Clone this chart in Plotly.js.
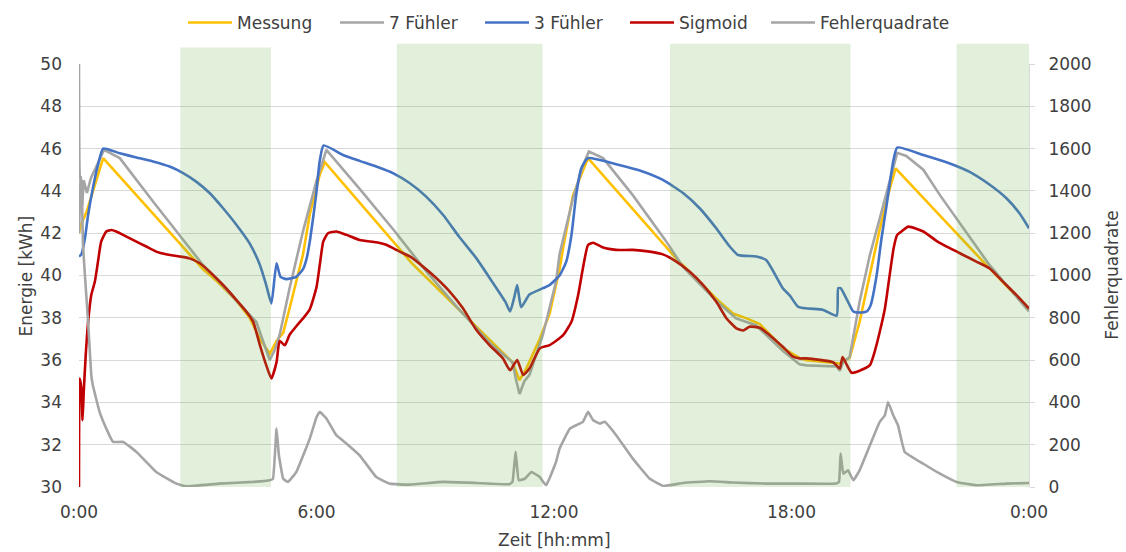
<!DOCTYPE html>
<html>
<head>
<meta charset="utf-8">
<script src="https://cdn.plot.ly/plotly-3.0.1.min.js"></script>
<style>
  html, body { margin: 0; padding: 0; background: #ffffff; }
  #chart { width: 1126px; height: 552px; }
</style>
</head>
<body>
<div id="chart"></div>
<script>
// Zeitachse in Stunden, Beschriftung hh:mm
const zeitTicks = [0, 6, 12, 18, 24];
const zeitTickText = ['0:00', '6:00', '12:00', '18:00', '0:00'];

// Zeiträume mit grüner Hinterlegung [h]
const tarifBeginn = [2.56, 8.03, 14.93, 22.17];
const tarifEnde = [4.85, 11.71, 19.49, 24.0];

// Messung [kWh]
const zeitMessung = [0, 0.05, 0.19, 0.4, 0.52, 0.61, 3.13, 3.5, 3.98, 4.31, 4.57, 4.82, 4.99, 5.16, 5.32, 5.49, 5.66, 5.83, 6.08, 6.21,
  8.4, 10.95, 11.13, 11.3, 11.64, 11.89, 12.14, 12.23, 12.48, 12.86,
  15.09, 15.68, 16.1, 16.52, 16.9, 17.2, 17.5, 17.8, 18.22, 18.38, 19.22, 19.47, 19.72, 19.98, 20.23, 20.48, 20.63,
  22.92, 24.0];
const messung = [42.0, 42.4, 43.0, 44.3, 45.0, 45.55, 40.3, 39.7, 38.8, 38.0, 37.0, 36.3, 36.9, 37.3, 38.45, 39.7, 41.0, 42.9, 44.76, 45.36,
  40.6, 35.9, 35.05, 35.6, 37.0, 38.2, 40.3, 41.3, 43.8, 45.55,
  40.8, 39.7, 38.9, 38.2, 37.95, 37.7, 37.1, 36.55, 36.08, 36.0, 35.84, 36.1, 37.8, 40.0, 42.2, 44.1, 45.07,
  40.5, 38.4];

// Modell mit 7 Fühlern [kWh]
const zeit7Fuehler = [0, 0.04, 0.08, 0.12, 0.2, 0.3, 0.45, 0.63, 1.03, 1.87, 3.13, 3.5, 3.98, 4.48, 4.65, 4.82, 4.95, 5.07, 5.32, 5.66, 5.99, 6.25,
  7.09, 7.93, 8.77, 9.6, 10.44, 10.95, 11.05, 11.13, 11.25, 11.38, 11.72, 12.05, 12.14, 12.48, 12.73, 12.88,
  13.24, 13.99, 14.84, 15.26, 16.1, 16.6, 17.1, 17.8, 18.2, 18.38, 19.14, 19.22, 19.3, 19.47, 19.72, 19.98, 20.23, 20.48, 20.67,
  20.9, 21.33, 21.75, 22.17, 22.59, 23.0, 23.43, 24.0];
const fuehler7 = [42.0, 44.7, 43.3, 44.5, 43.9, 44.6, 45.2, 45.94, 45.55, 43.5, 40.5, 39.8, 38.8, 37.8, 36.9, 36.0, 36.5, 37.2, 39.4, 42.1, 44.4, 45.94,
  44.1, 42.2, 40.2, 38.4, 36.7, 35.9, 35.0, 34.4, 35.0, 35.3, 37.2, 39.7, 41.0, 43.65, 45.2, 45.86,
  45.55, 43.8, 41.6, 40.4, 38.8, 37.97, 37.65, 36.4, 35.8, 35.75, 35.7, 35.5, 35.9, 36.15, 38.76, 40.97, 42.7, 44.4, 45.8,
  45.65, 45.0, 43.8, 42.7, 41.6, 40.5, 39.55, 38.3];

// Modell mit 3 Fühlern [kWh]
const zeit3Fuehler = [0, 0.06, 0.15, 0.23, 0.35, 0.48, 0.61, 1.03, 1.45, 1.87, 2.29, 2.63, 2.96, 3.3, 3.64, 3.98, 4.31, 4.57, 4.73, 4.86,
  4.99, 5.09, 5.24, 5.49, 5.66, 5.75, 5.83, 5.92, 5.99, 6.08, 6.18,
  6.67, 7.09, 7.51, 7.93, 8.36, 8.77, 9.2, 9.6, 10.04, 10.44, 10.77, 10.89,
  11.0, 11.07, 11.17, 11.38, 11.72, 11.89, 12.14, 12.31, 12.44, 12.56, 12.69, 12.86,
  13.57, 14.24, 14.75, 15.26, 15.68, 16.1, 16.44, 16.65, 17.11, 17.36, 17.78, 17.96, 18.17,
  18.8, 19.14, 19.18, 19.24, 19.39, 19.56, 19.7, 19.9, 20.0, 20.15, 20.27, 20.4, 20.57, 20.67,
  21.33, 22.0, 22.5, 23.0, 23.43, 23.76, 24.0];
const fuehler3 = [40.9, 41.0, 41.76, 42.86, 44.13, 45.23, 46.0, 45.78, 45.58, 45.39, 45.15, 44.84, 44.44, 43.9, 43.18, 42.39, 41.52, 40.5, 39.55, 38.68,
  40.58, 39.94, 39.83, 39.94, 40.3, 40.8, 41.6, 42.8, 43.8, 45.4, 46.15,
  45.7, 45.42, 45.15, 44.84, 44.36, 43.73, 42.86, 41.84, 40.81, 39.7, 38.76, 38.3,
  39.0, 39.55, 38.5, 39.1, 39.4, 39.55, 40.0, 40.66, 41.9, 43.8, 45.07, 45.55,
  45.26, 44.92, 44.52, 43.9, 43.18, 42.23, 41.37, 40.97, 40.9, 40.73, 39.4, 39.05, 38.52,
  38.37, 38.1, 39.4, 39.4, 38.9, 38.3, 38.25, 38.3, 38.6, 40.0, 41.7, 43.3, 45.4, 46.05,
  45.7, 45.3, 44.9, 44.3, 43.65, 42.94, 42.23];

// Sigmoid-Modell [kWh]
const zeitSigmoid = [0, 0.02, 0.06, 0.09, 0.12, 0.17, 0.23, 0.31, 0.4, 0.48, 0.56, 0.69, 0.82, 0.94, 1.2, 1.45, 1.7, 1.95, 2.2, 2.54, 2.79, 3.05, 3.3, 3.64, 3.98, 4.23, 4.4, 4.57, 4.73, 4.86,
  4.99, 5.07, 5.2, 5.32, 5.49, 5.66, 5.83, 6.0, 6.09, 6.17, 6.29, 6.5, 6.76, 7.09, 7.51, 7.76, 8.1, 8.36, 8.69, 9.03, 9.37, 9.7, 10.04, 10.37, 10.71, 10.89, 11.07, 11.22, 11.38, 11.64,
  11.89, 12.23, 12.44, 12.61, 12.73, 12.86, 12.99, 13.24, 13.57, 13.99, 14.42, 14.75, 15.09, 15.43, 15.77, 16.1, 16.36, 16.61, 16.78, 16.94, 17.2, 17.45, 17.78, 18.04, 18.2,
  18.38, 19.05, 19.22, 19.29, 19.39, 19.52, 19.72, 19.98, 20.1, 20.23, 20.36, 20.48, 20.58, 20.67, 20.78, 20.95, 21.33, 21.67, 22.0, 22.34, 22.67, 23.0, 23.34, 23.68, 24.0];
const sigmoid = [30.0, 35.13, 34.66, 33.16, 34.5, 36.24, 37.8, 39.08, 39.7, 40.66, 41.6, 42.08, 42.15, 42.08, 41.84, 41.6, 41.37, 41.13, 41.0, 40.9, 40.81, 40.58, 40.18, 39.55, 38.84, 38.29, 37.81, 36.71, 35.76, 35.13,
  35.9, 36.9, 36.7, 37.2, 37.6, 37.97, 38.4, 39.45, 40.6, 41.6, 42.0, 42.08, 41.92, 41.68, 41.57, 41.45, 41.13, 40.9, 40.42, 39.87, 39.23, 38.45, 37.42, 36.71, 36.08, 35.52, 36.0, 35.3, 35.6, 36.55,
  36.71, 37.18, 37.81, 39.08, 40.34, 41.44, 41.55, 41.32, 41.21, 41.21, 41.13, 41.0, 40.66, 40.18, 39.55, 38.76, 37.97, 37.5, 37.4, 37.58, 37.53, 37.18, 36.63, 36.16, 36.08,
  36.08, 35.9, 35.6, 36.15, 35.8, 35.4, 35.5, 35.76, 36.39, 37.34, 38.44, 40.02, 41.29, 41.92, 42.08, 42.31, 42.08, 41.63, 41.29, 40.97, 40.66, 40.34, 39.71, 39.08, 38.44];

// Summe der Fehlerquadrate (rechte Achse)
const zeitFehler = [0, 0.02, 0.06, 0.1, 0.15, 0.23, 0.31, 0.35, 0.52, 0.69, 0.86, 1.12, 1.45, 1.95, 2.46, 2.71, 3.55, 4.4, 4.82, 4.9, 4.99, 5.05, 5.16, 5.28, 5.49, 5.83, 6.0, 6.08,
  6.25, 6.5, 6.76, 7.09, 7.51, 7.85, 8.36, 9.2, 10.04, 10.87, 10.95, 11.03, 11.11, 11.26, 11.43, 11.64, 11.8, 12.05, 12.14, 12.4, 12.56, 12.73, 12.86,
  12.99, 13.16, 13.28, 13.57, 13.99, 14.42, 14.76, 15.26, 15.94, 16.52, 17.36, 18.2, 19.13, 19.2, 19.24, 19.31, 19.43, 19.56, 19.72, 19.98,
  20.23, 20.36, 20.44, 20.57, 20.69, 20.86, 21.33, 21.75, 22.17, 22.67, 23.43, 24.0];
const fehlerquadrate = [2000, 1470, 1450, 1150, 1000, 781, 529, 481, 355, 276, 213, 213, 166, 71, 16, 3, 16, 24, 32, 39, 276, 150, 39, 24, 71, 229, 330, 355,
  324, 245, 205, 150, 47, 16, 11, 24, 19, 13, 24, 166, 32, 39, 71, 47, 8, 118, 181, 276, 292, 308, 355,
  316, 300, 308, 245, 134, 39, 5, 19, 27, 21, 16, 16, 16, 24, 158, 63, 79, 32, 79, 197,
  308, 339, 402, 339, 292, 166, 110, 63, 24, 8, 16, 19];

const serien = [
  { name: 'Messung', x: zeitMessung, y: messung, color: '#ffc000', axis: 'y', legend: 'legend', glatt: 0 },
  { name: '7 Fühler', x: zeit7Fuehler, y: fuehler7, color: '#a5a5a5', axis: 'y', legend: 'legend2', glatt: 0 },
  { name: '3 Fühler', x: zeit3Fuehler, y: fuehler3, color: '#4472c4', axis: 'y', legend: 'legend3', glatt: 0.5 },
  { name: 'Sigmoid', x: zeitSigmoid, y: sigmoid, color: '#c00000', axis: 'y', legend: 'legend4', glatt: 0.5 },
  { name: 'Fehlerquadrate', x: zeitFehler, y: fehlerquadrate, color: '#a5a5a5', axis: 'y2', legend: 'legend5', glatt: 0.3 }
];

const traces = serien.map(s => ({
  type: 'scatter',
  mode: 'lines',
  name: s.name,
  x: s.x,
  y: s.y,
  yaxis: s.axis,
  legend: s.legend,
  line: s.glatt > 0
    ? { color: s.color, width: 2.6, shape: 'spline', smoothing: s.glatt }
    : { color: s.color, width: 2.6 },
  hoverinfo: 'skip'
}));

// halbtransparente grüne Bänder über den Kurven
const shapes = tarifBeginn.map((b, i) => ({
  type: 'rect',
  layer: 'above',
  xref: 'x',
  yref: 'paper',
  x0: b,
  x1: tarifEnde[i],
  y0: 0,
  y1: i === 0 ? 1.039 : 1.048,
  fillcolor: '#70ad47',
  opacity: 0.2,
  line: { width: 0 }
}));

const textFarbe = '#404040';
const schrift = 'DejaVu Sans, Arial, sans-serif';
const titelFont = { family: schrift, size: 17, color: textFarbe };

// Achsentitel
const annotations = [
  { text: 'Energie [kWh]', xref: 'paper', yref: 'paper', x: -0.0558, y: 0.5, xanchor: 'center', yanchor: 'middle', textangle: -90, showarrow: false, font: titelFont },
  { text: 'Fehlerquadrate', xref: 'paper', yref: 'paper', x: 1.0865, y: 0.5, xanchor: 'center', yanchor: 'middle', textangle: -90, showarrow: false, font: titelFont },
  { text: 'Zeit [hh:mm]', xref: 'paper', yref: 'paper', x: 0.5, y: -0.126, xanchor: 'center', yanchor: 'middle', showarrow: false, font: titelFont }
];

// Legendeneinträge einzeln platziert (Pixel im Container)
const legendeX = [188, 340, 485, 630, 771];
function legende(px) {
  return {
    x: (px - 5) / 1126,
    xref: 'container',
    xanchor: 'left',
    y: 1 - 23 / 552,
    yref: 'container',
    yanchor: 'middle',
    bgcolor: 'rgba(0,0,0,0)',
    borderwidth: 0,
    itemwidth: 44,
    font: { family: schrift, size: 17, color: textFarbe }
  };
}

const layout = {
  width: 1126,
  height: 552,
  margin: { l: 79, r: 97, t: 64, b: 65, pad: 0, autoexpand: false },
  paper_bgcolor: '#ffffff',
  plot_bgcolor: 'rgba(0,0,0,0)',
  font: { family: schrift, size: 17, color: textFarbe },
  showlegend: true,
  legend: legende(legendeX[0]),
  legend2: legende(legendeX[1]),
  legend3: legende(legendeX[2]),
  legend4: legende(legendeX[3]),
  legend5: legende(legendeX[4]),
  shapes: shapes,
  annotations: annotations,
  xaxis: {
    range: [0, 24],
    tickmode: 'array',
    tickvals: zeitTicks,
    ticktext: zeitTickText,
    showgrid: false,
    zeroline: false,
    showline: false,
    ticks: '',
    ticklabelstandoff: 13,
    tickfont: { family: schrift, size: 17, color: textFarbe },
    automargin: false
  },
  yaxis: {
    range: [30, 50],
    dtick: 2,
    tick0: 30,
    showgrid: true,
    gridcolor: '#d9d9d9',
    gridwidth: 1,
    zeroline: false,
    showline: false,
    ticks: '',
    ticklabelstandoff: 16,
    tickfont: { family: schrift, size: 17, color: textFarbe },
    automargin: false
  },
  yaxis2: {
    overlaying: 'y',
    side: 'right',
    range: [0, 2000],
    dtick: 200,
    tick0: 0,
    showgrid: false,
    zeroline: false,
    showline: true,
    linecolor: '#d9d9d9',
    linewidth: 1,
    ticks: 'outside',
    ticklen: 5,
    tickcolor: '#d9d9d9',
    ticklabelstandoff: 10,
    tickfont: { family: schrift, size: 17, color: textFarbe },
    automargin: false
  }
};

Plotly.newPlot('chart', traces, layout, { displayModeBar: false, staticPlot: true });
</script>
</body>
</html>
